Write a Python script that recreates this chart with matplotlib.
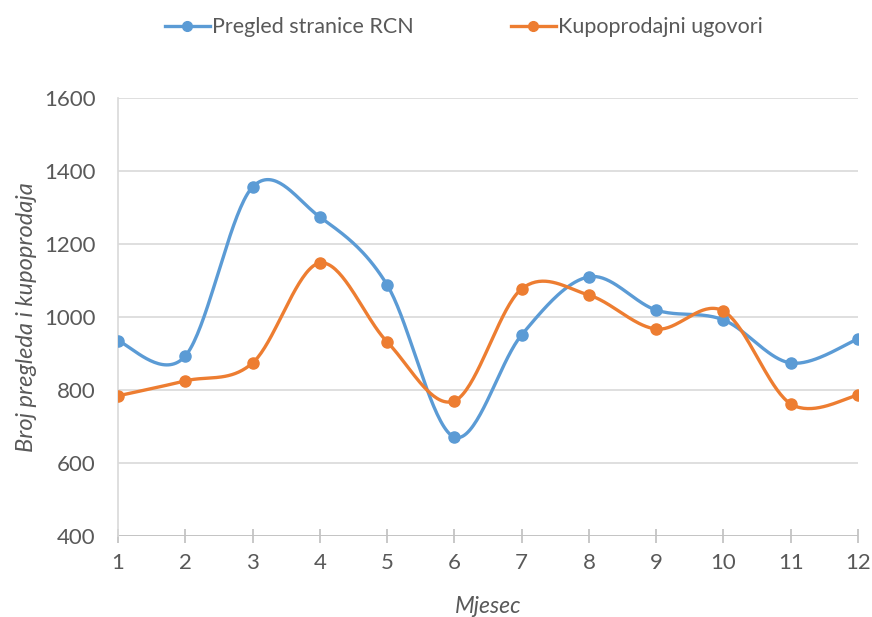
import numpy as np
import matplotlib
matplotlib.use("Agg")
import matplotlib.pyplot as plt

months = [1, 2, 3, 4, 5, 6, 7, 8, 9, 10, 11, 12]
page_views = [934, 893, 1356, 1274, 1088, 671, 951, 1110, 1019, 992, 874, 940]
sales_contracts = [784, 825, 874, 1148, 932, 770, 1077, 1060, 967, 1016, 762, 786]
series_names = ["Pregled stranice RCN", "Kupoprodajni ugovori"]
y_ticks = [400, 600, 800, 1000, 1200, 1400, 1600]

BLUE = "#5B9BD5"
ORANGE = "#ED7D31"
TEXT = "#595959"

plt.rcParams["font.family"] = ["Lato", "DejaVu Sans"]


def smooth(x, y, n=40):
    """Cubic Bezier smoothing through every point (Catmull-Rom style control points)."""
    x = np.asarray(x, float)
    y = np.asarray(y, float)
    px = np.concatenate([[x[0]], x, [x[-1]]])
    py = np.concatenate([[y[0]], y, [y[-1]]])
    xs, ys = [], []
    t = np.linspace(0, 1, n)
    for i in range(len(x) - 1):
        p0 = np.array([px[i + 1], py[i + 1]])
        p3 = np.array([px[i + 2], py[i + 2]])
        c1 = p0 + (np.array([px[i + 2], py[i + 2]]) - np.array([px[i], py[i]])) / 6
        c2 = p3 - (np.array([px[i + 3], py[i + 3]]) - np.array([px[i + 1], py[i + 1]])) / 6
        b = ((1 - t) ** 3)[:, None] * p0 + (3 * (1 - t) ** 2 * t)[:, None] * c1 \
            + (3 * (1 - t) * t ** 2)[:, None] * c2 + (t ** 3)[:, None] * p3
        xs.append(b[:, 0])
        ys.append(b[:, 1])
    return np.concatenate(xs), np.concatenate(ys)


fig = plt.figure(figsize=(8.72, 6.17), dpi=100)
ax = fig.add_axes([118 / 872, 1 - 536 / 617, (858 - 118) / 872, (536 - 98) / 617])

for vals, color, name in [(page_views, BLUE, series_names[0]),
                          (sales_contracts, ORANGE, series_names[1])]:
    sx, sy = smooth(months, vals)
    ax.plot(sx, sy, color=color, lw=2.4, solid_capstyle="round", zorder=3)
    ax.plot(months, vals, "o", color=color, ms=8, zorder=4)
    ax.plot([], [], "-o", color=color, lw=2.4, ms=7, label=name)

ax.set_xlim(1, 12)
ax.set_ylim(400, 1600)
ax.set_xticks(months)
ax.set_yticks(y_ticks)
ax.grid(axis="y", color="#D9D9D9", lw=1.2, zorder=0)
ax.set_axisbelow(True)

for s in ["top", "right", "bottom"]:
    ax.spines[s].set_visible(False)
ax.spines["left"].set_color("#D9D9D9")
ax.spines["left"].set_linewidth(1.2)
ax.axhline(400, color="#BFBFBF", lw=1.2, zorder=1)

ax.tick_params(axis="x", direction="inout", length=10, width=1.2, color="#BFBFBF",
               labelsize=16, labelcolor=TEXT, pad=7)
ax.tick_params(axis="y", length=0, labelsize=16, labelcolor=TEXT, pad=16)

ax.set_xlabel("Mjesec", fontsize=16.5, style="italic", color=TEXT, labelpad=17)
ax.set_ylabel("Broj pregleda i kupoprodaja", fontsize=17, style="italic", color=TEXT, labelpad=5)

fig.legend(loc="center", bbox_to_anchor=(0.532, 0.956), ncol=2, frameon=False,
           fontsize=15.5, labelcolor=TEXT, handlelength=2.1, handletextpad=0.1,
           columnspacing=4.5)

fig.savefig("out.png", dpi=100, facecolor="white")
